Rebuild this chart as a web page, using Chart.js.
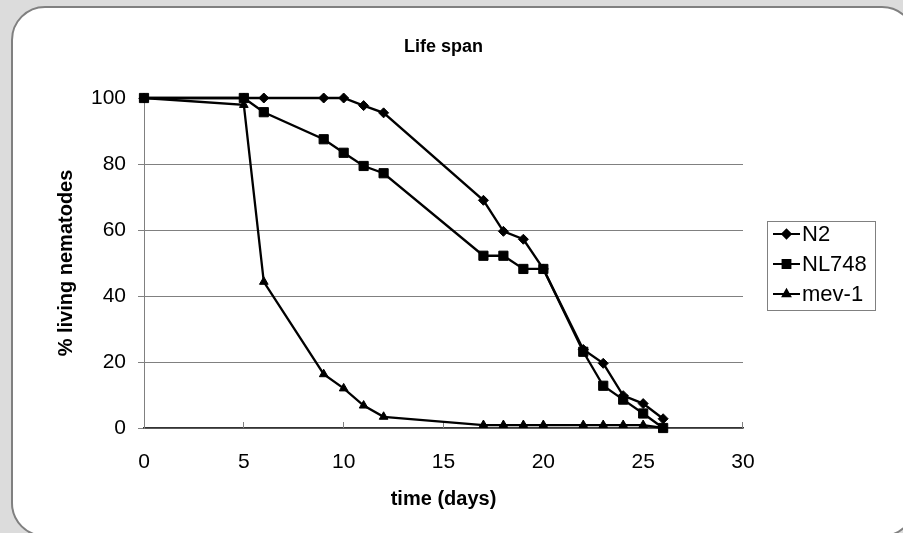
<!DOCTYPE html>
<html>
<head>
<meta charset="utf-8">
<script src="https://cdn.jsdelivr.net/npm/chart.js@4/dist/chart.umd.min.js"></script>
<style>
    html, body { margin: 0; padding: 0; }
    body { width: 903px; height: 533px; background: #dcdcdc; position: relative; overflow: hidden; }
    #card {
        position: absolute; left: 11px; top: 6px; width: 901px; height: 527px;
        background: #fff; border: 2.5px solid #808080; border-radius: 34px;
    }
    #chart { position: absolute; left: 0; top: 0; }
</style>
</head>
<body>
<div id="card"></div>
<canvas id="chart" width="903" height="533"></canvas>
<script>
// time points (days)
const days = [0, 5, 6, 9, 10, 11, 12, 17, 18, 19, 20, 22, 23, 24, 25, 26];

// % living nematodes per strain
const n2    = [100, 100, 100, 100, 100, 97.7, 95.5, 69, 59.6, 57.2, 48.2, 23.8, 19.6, 9.8, 7.4, 2.8];
const nl748 = [100, 100, 95.7, 87.5, 83.4, 79.4, 77.2, 52.2, 52.2, 48.2, 48.2, 23.1, 12.8, 8.6, 4.4, 0];
const mev1  = [100, 97.9, 44.3, 16.3, 12, 6.8, 3.4, 0.9, 0.9, 0.9, 0.9, 0.9, 0.9, 0.9, 0.9, 0];

const seriesNames = ['N2', 'NL748', 'mev-1'];
const xTicks = [0, 5, 10, 15, 20, 25, 30];
const yTicks = [0, 20, 40, 60, 80, 100];
const chartTitle = 'Life span';

const FONT = 'Liberation Sans, Arial, sans-serif';

function toPoints(values) {
    return days.map((d, i) => ({ x: d, y: values[i] }));
}

function makeSeries(label, values, style, radius) {
    return {
        label: label,
        data: toPoints(values),
        borderColor: '#000',
        backgroundColor: '#000',
        borderWidth: 2.3,
        pointStyle: style,
        pointRadius: radius,
        pointBorderWidth: 1,
        showLine: true,
        clip: false,
        tension: 0
    };
}

// title centred over the plot area, like Excel does
const plotTitle = {
    id: 'plotTitle',
    afterDraw(chart) {
        const ctx = chart.ctx;
        const area = chart.chartArea;
        ctx.save();
        ctx.font = 'bold 18px ' + FONT;
        ctx.fillStyle = '#000';
        ctx.textAlign = 'center';
        ctx.textBaseline = 'middle';
        ctx.fillText(chartTitle, (area.left + area.right) / 2, 47);
        ctx.restore();
    }
};

// Excel-like legend box with line + marker samples
const boxLegend = {
    id: 'boxLegend',
    afterDraw(chart) {
        const ctx = chart.ctx;
        const area = chart.chartArea;
        const x = area.right + 24;
        const y = 221;
        const w = 108;
        const h = 89;
        ctx.save();
        ctx.strokeStyle = '#808080';
        ctx.lineWidth = 1;
        ctx.strokeRect(x + 0.5, y + 0.5, w, h);
        ctx.font = '22px ' + FONT;
        ctx.textBaseline = 'middle';
        chart.data.datasets.forEach((ds, i) => {
            const cy = y + 13 + i * 30;
            ctx.strokeStyle = '#000';
            ctx.lineWidth = 2;
            ctx.beginPath();
            ctx.moveTo(x + 6, cy);
            ctx.lineTo(x + 33, cy);
            ctx.stroke();
            Chart.helpers.drawPoint(ctx, {
                pointStyle: ds.pointStyle,
                radius: ds.pointRadius * 0.85,
                borderWidth: 1
            }, x + 19.5, cy);
            ctx.fillStyle = '#000';
            ctx.fill();
            ctx.fillText(ds.label, x + 35, cy + 1);
        });
        ctx.restore();
    }
};

// small tick marks on the x axis pointing into the plot
const innerTicks = {
    id: 'innerTicks',
    beforeDatasetsDraw(chart) {
        const ctx = chart.ctx;
        const xs = chart.scales.x;
        const bottom = chart.chartArea.bottom;
        ctx.save();
        ctx.strokeStyle = '#808080';
        ctx.lineWidth = 1;
        xTicks.slice(1).forEach(v => {
            const px = Math.round(xs.getPixelForValue(v)) - 0.5;
            ctx.beginPath();
            ctx.moveTo(px, bottom);
            ctx.lineTo(px, bottom - 6);
            ctx.stroke();
        });
        ctx.restore();
    }
};

new Chart(document.getElementById('chart'), {
    type: 'scatter',
    data: {
        datasets: [
            makeSeries(seriesNames[0], n2, 'rectRot', 5),
            makeSeries(seriesNames[1], nl748, 'rect', 6.5),
            makeSeries(seriesNames[2], mev1, 'triangle', 5)
        ]
    },
    options: {
        responsive: false,
        animation: false,
        layout: { padding: { left: 0, right: 160, top: 98, bottom: 0 } },
        plugins: {
            legend: { display: false },
            tooltip: { enabled: false },
            title: { display: false }
        },
        scales: {
            x: {
                type: 'linear',
                min: 0,
                max: 30,
                afterBuildTicks(scale) { scale.ticks = xTicks.map(v => ({ value: v })); },
                afterFit(scale) { scale.height = 105; },
                grid: { display: true, drawOnChartArea: false, drawTicks: false },
                border: { display: true, color: '#333', width: 1.5 },
                ticks: {
                    color: '#000',
                    padding: 22,
                    maxRotation: 0,
                    font: { family: FONT, size: 21 }
                },
                title: {
                    display: true,
                    text: 'time (days)',
                    color: '#000',
                    font: { family: FONT, size: 20, weight: 'bold' },
                    padding: { top: 0, bottom: 22 }
                }
            },
            y: {
                type: 'linear',
                min: 0,
                max: 100,
                afterBuildTicks(scale) { scale.ticks = yTicks.map(v => ({ value: v })); },
                afterFit(scale) { scale.width = 144; },
                grid: {
                    color: c => (c.tick && c.tick.value === 100) ? 'rgba(0,0,0,0)' : '#808080',
                    tickColor: '#808080',
                    tickLength: 6,
                    lineWidth: 1
                },
                border: { display: true, color: '#808080', width: 1 },
                ticks: {
                    color: '#000',
                    padding: 12,
                    font: { family: FONT, size: 21 }
                },
                title: {
                    display: true,
                    text: '% living nematodes',
                    color: '#000',
                    font: { family: FONT, size: 20, weight: 'bold' },
                    padding: { top: 54, bottom: 0 }
                }
            }
        }
    },
    plugins: [innerTicks, plotTitle, boxLegend]
});
</script>
</body>
</html>
